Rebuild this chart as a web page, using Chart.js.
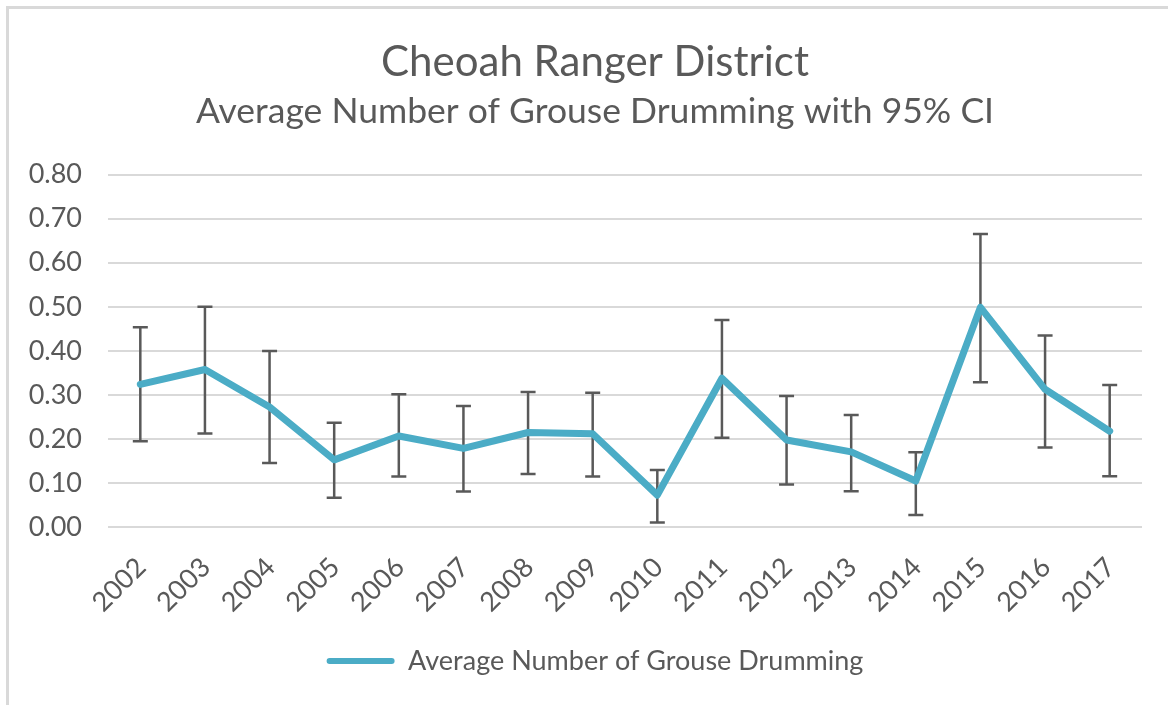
<!DOCTYPE html>
<html>
<head>
<meta charset="utf-8">
<script src="https://cdn.jsdelivr.net/npm/chart.js@4"></script>
<style>
  html, body { margin: 0; padding: 0; background: #ffffff; overflow: hidden; }
  #wrap { position: relative; width: 1168px; height: 705px; }
  #frame { position: absolute; left: 6px; top: 6px; width: 2000px; height: 2000px;
           border-left: 3px solid #d9d9d9; border-top: 3px solid #d9d9d9; pointer-events: none; }
  canvas { position: absolute; left: 0; top: 0; }
</style>
</head>
<body>
<div id="wrap">
  <canvas id="c" width="1168" height="705"></canvas>
  <div id="frame"></div>
</div>
<script>
const years = ['2002','2003','2004','2005','2006','2007','2008','2009','2010','2011','2012','2013','2014','2015','2016','2017'];
const means = [0.324,0.358,0.273,0.153,0.207,0.179,0.215,0.212,0.073,0.338,0.198,0.171,0.105,0.499,0.313,0.218];
const upperCI = [0.454,0.500,0.400,0.237,0.302,0.275,0.307,0.305,0.130,0.470,0.298,0.255,0.170,0.665,0.435,0.323];
const lowerCI = [0.195,0.213,0.146,0.067,0.115,0.081,0.121,0.115,0.011,0.203,0.097,0.082,0.028,0.329,0.181,0.116];
const yTickValues = [0.0,0.1,0.2,0.3,0.4,0.5,0.6,0.7,0.8];

const seriesName = 'Average Number of Grouse Drumming';
const titleText = 'Cheoah Ranger District';
const subtitleText = 'Average Number of Grouse Drumming with 95% CI';

const lineColor = '#4bacc6';
const textColor = '#595959';
const gridColor = '#d9d9d9';
const fontFamily = 'Lato, "Open Sans", sans-serif';

const errorBars = {
  id: 'errorBars',
  beforeDatasetsDraw(chart) {
    const ctx = chart.ctx;
    const xs = chart.scales.x, ys = chart.scales.y;
    ctx.save();
    ctx.strokeStyle = '#595959';
    ctx.lineWidth = 2.5;
    ctx.lineCap = 'butt';
    const cap = 7.5;
    years.forEach((yr, i) => {
      const x = xs.getPixelForValue(i);
      const yHi = ys.getPixelForValue(upperCI[i]);
      const yLo = ys.getPixelForValue(lowerCI[i]);
      ctx.beginPath();
      ctx.moveTo(x, yHi); ctx.lineTo(x, yLo);
      ctx.moveTo(x - cap, yHi); ctx.lineTo(x + cap, yHi);
      ctx.moveTo(x - cap, yLo); ctx.lineTo(x + cap, yLo);
      ctx.stroke();
    });
    ctx.restore();
  }
};

new Chart(document.getElementById('c'), {
  type: 'line',
  data: {
    labels: years,
    datasets: [{
      label: seriesName,
      data: means,
      borderColor: lineColor,
      backgroundColor: lineColor,
      borderWidth: 7,
      borderCapStyle: 'round',
      borderJoinStyle: 'round',
      pointRadius: 0,
      pointHoverRadius: 0,
      tension: 0,
      fill: false
    }]
  },
  options: {
    responsive: false,
    animation: false,
    events: [],
    layout: { padding: { left: 48, right: 26, top: 0, bottom: 20.5 } },
    plugins: {
      title: {
        display: true,
        text: titleText,
        color: textColor,
        font: { family: fontFamily, size: 42, weight: 'normal' },
        padding: { top: 37, bottom: 3 }
      },
      subtitle: {
        display: true,
        text: subtitleText,
        color: textColor,
        font: { family: fontFamily, size: 35.5, weight: 'normal' },
        padding: { top: 0, bottom: 41.6 }
      },
      legend: {
        display: true,
        position: 'bottom',
        labels: {
          color: textColor,
          font: { family: fontFamily, size: 27 },
          boxWidth: 68,
          boxHeight: 6,
          padding: 10,
          useBorderRadius: true,
          borderRadius: 3,
          generateLabels(chart) {
            const items = Chart.defaults.plugins.legend.labels.generateLabels(chart);
            items.forEach(it => { it.lineWidth = 0; it.fillStyle = lineColor; it.strokeStyle = lineColor; });
            return items;
          }
        }
      },
      tooltip: { enabled: false }
    },
    scales: {
      x: {
        offset: true,
        afterFit(scale) { scale.height = 110.2; scale.paddingLeft = 0; scale.paddingRight = 0; },
        grid: { display: false, drawTicks: false, offset: true },
        border: { display: false },
        ticks: {
          color: textColor,
          font: { family: fontFamily, size: 27 },
          maxRotation: 45,
          minRotation: 45,
          autoSkip: false,
          padding: 24,
          labelOffset: 1
        }
      },
      y: {
        min: 0,
        max: 0.8,
        afterFit(scale) {
          scale.width = 60;
          scale._computeLabelArea = function () { return undefined; };
        },
        afterBuildTicks(scale) { scale.ticks = yTickValues.map(v => ({ value: v })); },
        grid: { color: gridColor, lineWidth: 2, drawTicks: false },
        border: { display: false },
        ticks: {
          color: textColor,
          font: { family: fontFamily, size: 27 },
          padding: 26,
          callback: v => Number(v).toFixed(2)
        }
      }
    }
  },
  plugins: [errorBars]
});
</script>
</body>
</html>
